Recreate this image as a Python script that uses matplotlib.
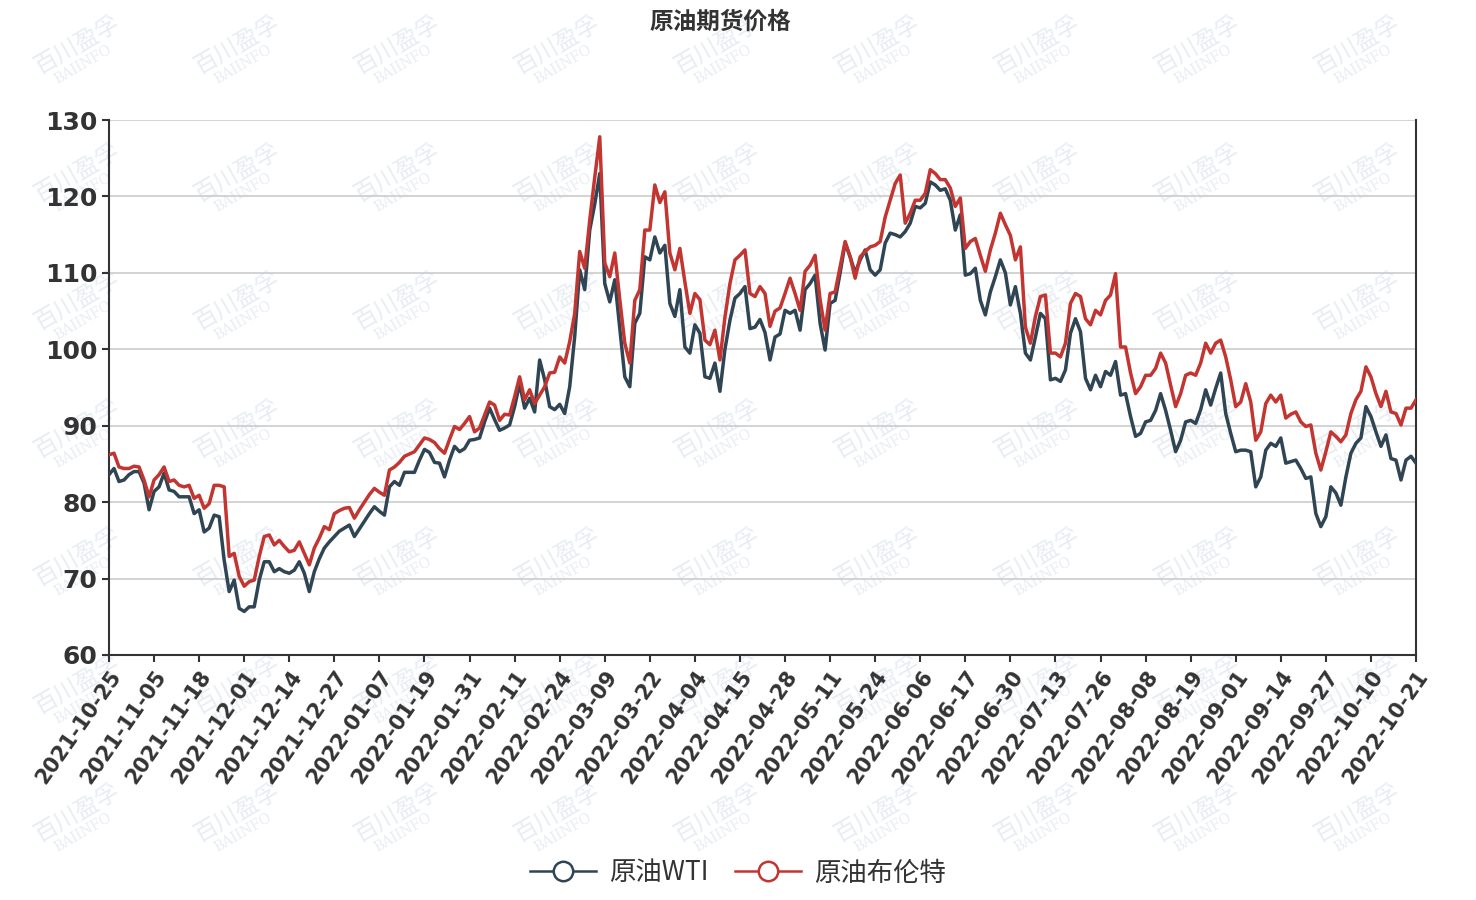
import matplotlib
matplotlib.use("Agg")
import matplotlib.pyplot as plt
from matplotlib.lines import Line2D
from matplotlib import font_manager

wti = [83.6,84.4,82.7,82.9,83.6,84.0,84.0,82.5,79.0,81.4,82.0,83.8,81.6,81.4,80.7,80.7,80.7,78.5,79.0,76.1,
76.6,78.3,78.1,72.4,68.3,69.8,66.1,65.7,66.3,66.3,69.8,72.2,72.2,70.9,71.3,70.9,70.7,71.1,72.2,70.7,
68.3,70.9,72.6,74.0,74.8,75.5,76.2,76.6,77.0,75.5,76.5,77.5,78.5,79.4,78.8,78.3,82.0,82.7,82.2,83.9,
83.9,83.9,85.5,86.9,86.5,85.2,85.1,83.3,85.5,87.3,86.6,87.0,88.1,88.2,88.4,90.5,92.3,90.8,89.4,89.7,
90.1,92.5,95.5,92.3,93.6,91.8,98.6,96.0,92.5,92.1,92.8,91.6,95.1,101.7,110.4,107.8,115.6,119.0,123.0,108.6,
106.2,109.1,102.7,96.4,95.1,103.4,104.7,112.1,111.7,114.7,112.6,113.6,106.0,104.3,107.8,100.3,99.5,103.2,102.1,96.4,
96.2,98.2,94.5,100.0,103.8,106.7,107.3,108.2,102.7,102.9,103.9,102.2,98.6,101.6,102.0,105.1,104.7,105.1,102.5,107.8,
108.6,109.7,103.4,99.9,106.0,106.4,110.0,113.9,112.1,110.0,111.7,113.0,110.4,109.7,110.4,113.9,115.2,115.0,114.7,115.4,
116.5,118.7,118.5,119.1,121.9,121.5,120.8,121.0,119.5,115.6,117.6,109.7,109.9,110.6,106.4,104.5,107.5,109.5,111.7,110.0,
105.8,108.2,104.7,99.5,98.6,101.6,104.7,104.0,96.0,96.2,95.8,97.3,102.1,104.0,102.3,96.2,94.7,96.6,95.1,97.1,
96.6,98.4,94.0,94.2,91.2,88.6,89.0,90.5,90.7,92.0,94.2,92.0,89.4,86.6,88.1,90.5,90.7,90.3,92.1,94.7,
92.7,94.9,96.9,91.6,89.0,86.6,86.8,86.8,86.6,82.0,83.3,86.8,87.7,87.3,88.4,85.1,85.3,85.5,84.4,83.1,
83.3,78.5,76.8,78.1,82.0,81.2,79.6,83.3,86.4,87.7,88.4,92.5,91.2,89.2,87.3,88.8,85.7,85.5,82.9,85.5,
86.0,85.1]

brent = [86.2,86.4,84.6,84.4,84.4,84.7,84.6,82.9,80.7,82.9,83.6,84.6,82.7,82.9,82.2,82.0,82.2,80.5,80.9,79.2,
79.8,82.2,82.2,82.0,72.9,73.3,70.3,69.0,69.6,69.8,72.9,75.5,75.7,74.4,75.0,74.2,73.5,73.7,74.8,73.3,
71.8,74.0,75.3,76.8,76.4,78.5,78.9,79.2,79.3,77.9,79.0,80.0,81.0,81.8,81.3,80.9,84.2,84.6,85.2,86.0,
86.3,86.6,87.5,88.4,88.2,87.8,87.0,86.4,88.2,89.9,89.5,90.3,91.2,89.2,89.7,91.4,93.1,92.7,90.7,91.5,
91.4,93.8,96.4,93.4,94.7,92.9,94.0,95.1,96.9,97.0,99.0,98.2,101.0,104.7,112.8,110.6,116.9,122.5,127.8,111.3,
109.5,112.6,106.5,100.8,98.2,106.4,107.8,115.6,115.6,121.5,119.2,120.6,112.6,110.4,113.2,108.8,104.7,107.3,106.5,101.2,
100.6,102.5,98.6,104.2,108.6,111.7,112.3,113.0,107.3,106.9,108.2,107.3,103.0,105.0,105.4,107.3,109.3,107.3,105.1,110.2,
111.0,112.3,106.5,102.5,107.3,107.5,110.8,114.1,112.1,109.3,112.1,112.8,113.4,113.6,114.1,117.3,119.5,121.7,122.8,116.5,
117.8,119.5,119.5,120.4,123.5,123.0,122.2,122.2,121.1,118.7,119.8,113.2,114.1,114.5,112.3,110.2,113.0,115.2,117.8,116.3,
114.9,111.7,113.4,102.9,100.8,104.3,106.9,107.1,99.5,99.5,99.0,100.8,106.0,107.3,106.9,104.0,103.2,105.1,104.5,106.4,
107.1,109.9,100.3,100.3,96.9,94.2,95.1,96.6,96.6,97.5,99.5,98.2,95.3,92.5,94.2,96.6,96.9,96.6,98.2,100.8,
99.5,100.8,101.2,99.0,96.0,92.5,93.1,95.5,93.1,88.1,89.2,92.9,94.0,93.1,94.0,91.0,91.5,91.8,90.5,89.9,
90.1,86.4,84.2,86.6,89.2,88.6,87.9,88.8,91.6,93.4,94.5,97.7,96.4,94.2,92.5,94.5,91.8,91.6,90.1,92.3,
92.3,93.4]

tick_labels = ["2021-10-25","2021-11-05","2021-11-18","2021-12-01","2021-12-14","2021-12-27",
"2022-01-07","2022-01-19","2022-01-31","2022-02-11","2022-02-24","2022-03-09","2022-03-22",
"2022-04-04","2022-04-15","2022-04-28","2022-05-11","2022-05-24","2022-06-06","2022-06-17",
"2022-06-30","2022-07-13","2022-07-26","2022-08-08","2022-08-19","2022-09-01","2022-09-14",
"2022-09-27","2022-10-10","2022-10-21"]
series_names = ["原油WTI", "原油布伦特"]

available = {f.name for f in font_manager.fontManager.ttflist}
CJK = next((n for n in ["Noto Sans CJK SC", "Noto Sans CJK JP", "Noto Sans CJK TC",
                        "Noto Sans CJK KR", "Noto Serif CJK SC"] if n in available), "DejaVu Sans")
c_wti, c_brent = "#2f4554", "#c23531"

fig = plt.figure(figsize=(14.76, 9.0), dpi=100)
ax = fig.add_axes([109/1476, 1-655/900, (1416-109)/1476, (655-120)/900])
ax.set_zorder(2)

# watermarks (behind the plot)
for wx in range(30, 1400, 160):
    for wy in range(45, 900, 128):
        fig.text(wx/1476, 1-wy/900, "百川盈孚", fontfamily=CJK, fontsize=17, color="#e8edf3",
                 rotation=30, ha="left", va="center", zorder=0)
        fig.text((wx+22)/1476, 1-(wy+20)/900, "BAIINFO", fontfamily="DejaVu Serif", fontsize=10,
                 color="#e8edf3", rotation=30, ha="left", va="center", zorder=0)

ax.plot(range(len(wti)), wti, color=c_wti, lw=2.5, zorder=3)
ax.plot(range(len(brent)), brent, color=c_brent, lw=2.5, zorder=4)

ax.set_xlim(0, len(wti)-1)
ax.set_ylim(60, 130)
ax.set_yticks(range(60, 131, 10))
ax.grid(axis="y", color="#cccccc", lw=1.2)
ax.set_axisbelow(True)
ticks = [min(i*9, len(wti)-1) for i in range(len(tick_labels))]
ax.set_xticks(ticks)
ax.set_xticklabels(tick_labels, rotation=55, ha="right", rotation_mode="anchor",
                   fontsize=15, fontweight="bold", color="#333333")
for lab in ax.get_yticklabels():
    lab.set_fontsize(18); lab.set_fontweight("bold"); lab.set_color("#333333")
ax.tick_params(axis="both", length=5, color="#333333", width=1.5)
for s in ["left", "bottom", "right"]:
    ax.spines[s].set_color("#333333"); ax.spines[s].set_linewidth(1.5)
ax.spines["top"].set_visible(False)
ax.patch.set_alpha(0)

fig.text(0.488, 1-22/900, "原油期货价格", fontfamily=CJK, fontsize=17, fontweight="bold",
         color="#333333", ha="center", va="center", zorder=5)

handles = [Line2D([0], [0], color=c, lw=1.8, marker="o", markersize=14, markerfacecolor="white",
                  markeredgewidth=1.8) for c in (c_wti, c_brent)]
leg = fig.legend(handles, series_names, loc="center", bbox_to_anchor=(0.5, 1-873/900), ncol=2,
                 frameon=False, prop={"family": CJK, "size": 19},
                 handlelength=2.5, columnspacing=1.0, handletextpad=0.5, labelcolor="#333333")
leg.set_zorder(5)

fig.savefig("out.png", dpi=100)
